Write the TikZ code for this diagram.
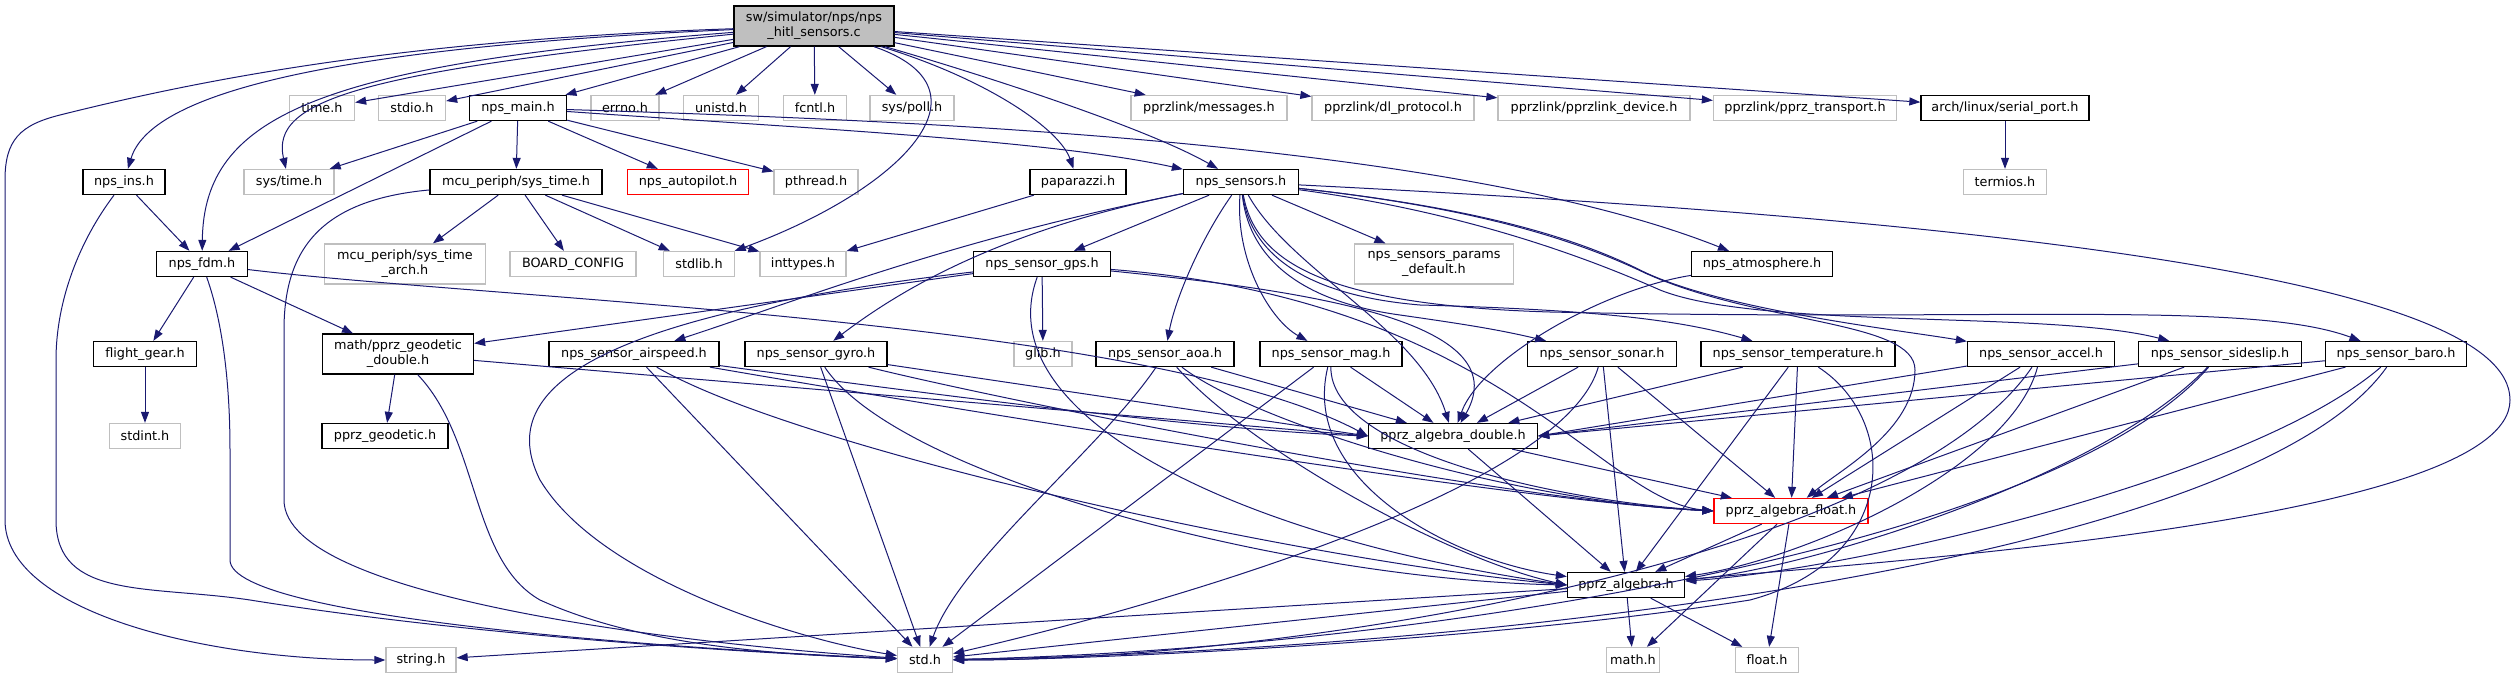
\documentclass[tikz,border=0pt]{standalone}
\usepackage{fontspec}
\setmainfont{DejaVu Sans}
\usepackage{tikz}
\usetikzlibrary{arrows.meta}
\definecolor{edgeblue}{RGB}{25,25,112}
\definecolor{sysgray}{RGB}{191,191,191}

\begin{document}
\begin{tikzpicture}[
      x=1pt, y=-1pt,
      font=\fontsize{12.8}{15}\selectfont,
      box/.style={draw=black, line width=1.3pt, align=center, inner sep=0pt, minimum height=25pt},
      sysbox/.style={box, draw=sysgray},
      redbox/.style={box, draw=red},
      rootbox/.style={box, fill=sysgray, minimum height=40pt},
      twoline/.style={minimum height=40pt},
      arrow/.style={-{Triangle[length=11pt,width=8pt]}, draw=edgeblue, line width=1pt}
    ]
    \useasboundingbox (0,0) rectangle (2517,679);
    % top row
    \node[rootbox, minimum width=160pt] (root) at (814,26) {sw/simulator/nps/nps\\\_hitl\_sensors.c};
    \node[sysbox, minimum width=65pt] (timeh) at (322,108) {time.h};
    \node[sysbox, minimum width=67pt] (stdioh) at (412,108) {stdio.h};
    \node[box, minimum width=97pt] (npsmain) at (518,108) {nps\_main.h};
    \node[sysbox, minimum width=68pt] (errnoh) at (625,108) {errno.h};
    \node[sysbox, minimum width=75pt] (unistdh) at (721,108) {unistd.h};
    \node[sysbox, minimum width=63pt] (fcntlh) at (815,108) {fcntl.h};
    \node[sysbox, minimum width=84pt] (syspoll) at (912,108) {sys/poll.h};
    \node[sysbox, minimum width=156pt] (msgs) at (1209,108) {pprzlink/messages.h};
    \node[sysbox, minimum width=162pt] (dlproto) at (1393,108) {pprzlink/dl\_protocol.h};
    \node[sysbox, minimum width=192pt] (pldevice) at (1594,108) {pprzlink/pprzlink\_device.h};
    \node[sysbox, minimum width=183pt] (ptransport) at (1805,108) {pprzlink/pprz\_transport.h};
    \node[box, minimum width=168pt] (serialport) at (2005,108) {arch/linux/serial\_port.h};
    % second row
    \node[box, minimum width=82pt] (npsins) at (124,182) {nps\_ins.h};
    \node[sysbox, minimum width=90pt] (systimeh) at (289,182) {sys/time.h};
    \node[box, minimum width=172pt] (mcusystime) at (516,182) {mcu\_periph/sys\_time.h};
    \node[redbox, minimum width=121pt] (autopilot) at (688,182) {nps\_autopilot.h};
    \node[sysbox, minimum width=84pt] (pthreadh) at (816,182) {pthread.h};
    \node[box, minimum width=96pt] (paparazzi) at (1078,182) {paparazzi.h};
    \node[box, minimum width=115pt] (sensors) at (1241,182) {nps\_sensors.h};
    \node[sysbox, minimum width=83pt] (termiosh) at (2005,182) {termios.h};
    % third row
    \node[box, minimum width=91pt] (npsfdm) at (202,264) {nps\_fdm.h};
    \node[sysbox, twoline, minimum width=161pt] (systimearch) at (405,264) {mcu\_periph/sys\_time\\\_arch.h};
    \node[sysbox, minimum width=126pt] (boardconfig) at (573,264) {BOARD\_CONFIG};
    \node[sysbox, minimum width=71pt] (stdlibh) at (699,264) {stdlib.h};
    \node[sysbox, minimum width=86pt] (inttypesh) at (803,264) {inttypes.h};
    \node[box, minimum width=137pt] (gps) at (1042,264) {nps\_sensor\_gps.h};
    \node[sysbox, twoline, minimum width=159pt] (paramsdefault) at (1434,264) {nps\_sensors\_params\\\_default.h};
    \node[box, minimum width=141pt] (atmosphere) at (1762,264) {nps\_atmosphere.h};
    % fourth row
    \node[box, minimum width=103pt] (flightgear) at (145,354) {flight\_gear.h};
    \node[box, twoline, minimum width=151pt] (geodeticdouble) at (398,354) {math/pprz\_geodetic\\\_double.h};
    \node[box, minimum width=170pt] (airspeed) at (634,354) {nps\_sensor\_airspeed.h};
    \node[box, minimum width=142pt] (gyro) at (816,354) {nps\_sensor\_gyro.h};
    \node[sysbox, minimum width=58pt] (glibh) at (1043,354) {glib.h};
    \node[box, minimum width=138pt] (aoa) at (1165,354) {nps\_sensor\_aoa.h};
    \node[box, minimum width=142pt] (mag) at (1331,354) {nps\_sensor\_mag.h};
    \node[box, minimum width=149pt] (sonar) at (1602,354) {nps\_sensor\_sonar.h};
    \node[box, minimum width=194pt] (temperature) at (1798,354) {nps\_sensor\_temperature.h};
    \node[box, minimum width=147pt] (accel) at (2041,354) {nps\_sensor\_accel.h};
    \node[box, minimum width=163pt] (sideslip) at (2220,354) {nps\_sensor\_sideslip.h};
    \node[box, minimum width=141pt] (baro) at (2396,354) {nps\_sensor\_baro.h};
    % lower rows
    \node[sysbox, minimum width=71pt] (stdinth) at (145,436) {stdint.h};
    \node[box, minimum width=126pt] (geodetic) at (385,436) {pprz\_geodetic.h};
    \node[box, minimum width=169pt] (algdouble) at (1453,436) {pprz\_algebra\_double.h};
    \node[redbox, minimum width=154pt] (algfloat) at (1791,511) {pprz\_algebra\_float.h};
    \node[box, minimum width=117pt] (algebra) at (1626,585) {pprz\_algebra.h};
    \node[sysbox, minimum width=70pt] (stringh) at (421,660) {string.h};
    \node[sysbox, minimum width=55pt] (stdh) at (925,660) {std.h};
    \node[sysbox, minimum width=53pt] (mathh) at (1633,660) {math.h};
    \node[sysbox, minimum width=63pt] (floath) at (1767,660) {float.h};

    % includes of the hitl source
    \draw[arrow] (root) .. controls (400,40) and (200,80) .. (60,115) .. controls (20,125) and (5,140) .. (5,180) -- (5,520) .. controls (5,610) and (200,660) .. (stringh);
    \draw[arrow] (root) .. controls (320,48) and (150,95) .. (npsins);
    \draw[arrow] (root) .. controls (320,65) and (204,115) .. (npsfdm);
    \draw[arrow] (root) .. controls (360,72) and (270,100) .. (systimeh);
    \draw[arrow] (root) -- (timeh);
    \draw[arrow] (root) -- (stdioh);
    \draw[arrow] (root) -- (npsmain);
    \draw[arrow] (root) -- (errnoh);
    \draw[arrow] (root) -- (unistdh);
    \draw[arrow] (root) -- (fcntlh);
    \draw[arrow] (root) -- (syspoll);
    \draw[arrow] (root) .. controls (1000,90) and (900,190) .. (stdlibh);
    \draw[arrow] (root) .. controls (990,80) and (1060,130) .. (paparazzi);
    \draw[arrow] (root) .. controls (1000,80) and (1150,130) .. (sensors);
    \draw[arrow] (root) -- (msgs);
    \draw[arrow] (root) -- (dlproto);
    \draw[arrow] (root) -- (pldevice);
    \draw[arrow] (root) -- (ptransport);
    \draw[arrow] (root) -- (serialport);
    \draw[arrow] (serialport) -- (termiosh);
    \draw[arrow] (paparazzi) -- (inttypesh);

    % nps_main, sys_time, ins, fdm
    \draw[arrow] (npsmain) -- (systimeh);
    \draw[arrow] (npsmain) -- (npsfdm);
    \draw[arrow] (npsmain) -- (mcusystime);
    \draw[arrow] (npsmain) -- (autopilot);
    \draw[arrow] (npsmain) -- (pthreadh);
    \draw[arrow] (npsmain) .. controls (800,128) and (1050,140) .. (sensors);
    \draw[arrow] (npsmain) .. controls (900,120) and (1450,140) .. (atmosphere);
    \draw[arrow] (mcusystime) -- (systimearch);
    \draw[arrow] (mcusystime) -- (boardconfig);
    \draw[arrow] (mcusystime) -- (stdlibh);
    \draw[arrow] (mcusystime) -- (inttypesh);
    \draw[arrow] (mcusystime) .. controls (320,200) and (284,250) .. (284,330) -- (284,500) .. controls (284,600) and (700,645) .. (stdh);
    \draw[arrow] (npsins) -- (npsfdm);
    \draw[arrow] (npsins) .. controls (80,240) and (56,300) .. (56,360) -- (56,520) .. controls (56,600) and (150,585) .. (250,600) .. controls (500,640) and (800,655) .. (stdh);
    \draw[arrow] (npsfdm) -- (flightgear);
    \draw[arrow] (npsfdm) -- (geodeticdouble);
    \draw[arrow] (npsfdm) .. controls (222,320) and (230,380) .. (230,450) -- (230,560) .. controls (230,620) and (700,650) .. (stdh);
    \draw[arrow] (npsfdm) .. controls (500,300) and (1150,320) .. (algdouble.west);
    \draw[arrow] (flightgear) -- (stdinth);
    \draw[arrow] (geodeticdouble) -- (geodetic);
    \draw[arrow] (geodeticdouble) .. controls (480,440) and (470,560) .. (540,600) .. controls (650,650) and (800,655) .. (stdh);
    \draw[arrow] (geodeticdouble) -- (algdouble.west);

    % nps_sensors
    \draw[arrow] (sensors) -- (gps);
    \draw[arrow] (sensors) .. controls (950,240) and (800,300) .. (airspeed);
    \draw[arrow] (sensors) .. controls (1000,230) and (900,290) .. (gyro);
    \draw[arrow] (sensors) .. controls (1200,240) and (1175,300) .. (aoa);
    \draw[arrow] (sensors) .. controls (1235,260) and (1270,320) .. (mag);
    \draw[arrow] (sensors) -- (paramsdefault);
    \draw[arrow] (sensors) .. controls (1290,270) and (1420,330) .. (algdouble);
    \draw[arrow] (sensors) .. controls (1248,250) and (1290,300) .. (1400,315) .. controls (1470,325) and (1500,330) .. (sonar);
    \draw[arrow] (sensors) .. controls (1250,250) and (1300,295) .. (1420,305) .. controls (1600,310) and (1680,320) .. (temperature);
    \draw[arrow] (sensors) .. controls (1450,205) and (1560,230) .. (1640,270) .. controls (1720,310) and (1900,330) .. (accel);
    \draw[arrow] (sensors) .. controls (1450,210) and (1570,250) .. (1660,290) .. controls (1760,330) and (2050,310) .. (sideslip);
    \draw[arrow] (sensors) .. controls (1255,260) and (1320,305) .. (1550,312) .. controls (2000,322) and (2250,300) .. (baro);
    \draw[arrow] (sensors) .. controls (1450,205) and (1560,232) .. (1645,273) .. controls (1760,325) and (1915,320) .. (1915,370) .. controls (1915,430) and (1840,470) .. (algfloat);
    \draw[arrow] (sensors) .. controls (2000,220) and (2510,280) .. (2510,400) .. controls (2510,520) and (1900,560) .. (algebra);
    \draw[arrow] (atmosphere) .. controls (1600,290) and (1480,360) .. (algdouble);

    % sensor headers
    \draw[arrow] (gps) -- (geodeticdouble);
    \draw[arrow] (gps) .. controls (560,320) and (500,400) .. (540,480) .. controls (600,580) and (800,640) .. (stdh);
    \draw[arrow] (gps) -- (glibh);
    \draw[arrow] (gps) .. controls (985,420) and (1250,540) .. (algebra.west);
    \draw[arrow] (gps) .. controls (1300,290) and (1520,320) .. (algdouble);
    \draw[arrow] (gps) .. controls (1500,300) and (1600,500) .. (algfloat.west);
    \draw[arrow] (airspeed) -- (stdh);
    \draw[arrow] (airspeed) .. controls (800,450) and (1300,560) .. (algebra.west);
    \draw[arrow] (airspeed) .. controls (900,390) and (1200,430) .. (algdouble.west);
    \draw[arrow] (airspeed) .. controls (900,400) and (1500,500) .. (algfloat.west);
    \draw[arrow] (gyro) -- (stdh);
    \draw[arrow] (gyro) .. controls (900,480) and (1300,580) .. (algebra.west);
    \draw[arrow] (gyro) -- (algdouble.west);
    \draw[arrow] (gyro) .. controls (1000,400) and (1500,500) .. (algfloat.west);
    \draw[arrow] (aoa) .. controls (1100,450) and (960,560) .. (stdh);
    \draw[arrow] (aoa) .. controls (1250,450) and (1450,560) .. (algebra.west);
    \draw[arrow] (aoa) -- (algdouble);
    \draw[arrow] (aoa) .. controls (1250,420) and (1500,500) .. (algfloat.west);
    \draw[arrow] (mag) -- (stdh);
    \draw[arrow] (mag) .. controls (1300,480) and (1450,560) .. (algebra);
    \draw[arrow] (mag) -- (algdouble);
    \draw[arrow] (mag) .. controls (1330,450) and (1550,500) .. (algfloat.west);
    \draw[arrow] (sonar) -- (algdouble);
    \draw[arrow] (sonar) -- (algebra);
    \draw[arrow] (sonar) -- (algfloat);
    \draw[arrow] (sonar) .. controls (1560,500) and (1100,620) .. (stdh);
    \draw[arrow] (temperature) -- (algdouble);
    \draw[arrow] (temperature) -- (algebra);
    \draw[arrow] (temperature) -- (algfloat);
    \draw[arrow] (temperature) .. controls (1900,420) and (1900,560) .. (1750,600) .. controls (1500,640) and (1100,660) .. (stdh);
    \draw[arrow] (accel) -- (algdouble.east);
    \draw[arrow] (accel) -- (algfloat);
    \draw[arrow] (accel) .. controls (2010,470) and (1800,560) .. (algebra);
    \draw[arrow] (accel) .. controls (1900,560) and (1300,660) .. (stdh);
    \draw[arrow] (sideslip) -- (algdouble.east);
    \draw[arrow] (sideslip) -- (algfloat);
    \draw[arrow] (sideslip) .. controls (2100,480) and (1800,570) .. (algebra);
    \draw[arrow] (sideslip) .. controls (2050,550) and (1400,650) .. (stdh);
    \draw[arrow] (baro) -- (algdouble.east);
    \draw[arrow] (baro) -- (algfloat);
    \draw[arrow] (baro) .. controls (2250,480) and (1850,570) .. (algebra);
    \draw[arrow] (baro) .. controls (2250,560) and (1500,650) .. (stdh);

    % math headers
    \draw[arrow] (algdouble) -- (algebra);
    \draw[arrow] (algdouble) -- (algfloat);
    \draw[arrow] (algfloat) -- (algebra);
    \draw[arrow] (algfloat) -- (mathh);
    \draw[arrow] (algfloat) -- (floath);
    \draw[arrow] (algebra) -- (stringh);
    \draw[arrow] (algebra) -- (stdh);
    \draw[arrow] (algebra) -- (mathh);
    \draw[arrow] (algebra) -- (floath);
  \end{tikzpicture}
\end{document}
